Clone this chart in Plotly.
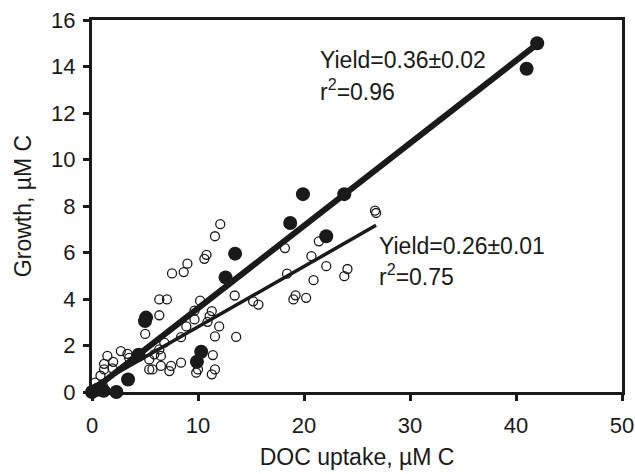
import plotly.graph_objects as go

# Filled circles (large)
filled_x = [0.0, 0.5, 1.1, 2.3, 3.4, 4.4, 5.0, 5.1, 9.9, 10.3, 12.6, 13.5, 18.7, 19.9, 22.1, 23.8, 41.0, 42.0]
filled_y = [0.0, 0.1, 0.05, 0.0, 0.54, 1.6, 3.05, 3.2, 1.3, 1.73, 4.93, 5.95, 7.27, 8.51, 6.7, 8.51, 13.9, 15.0]

# Open circles (small)
open_x = [12.1, 11.6, 10.8, 10.6, 9.0, 8.65, 7.55, 6.35, 7.07, 13.46, 15.2, 15.7, 10.2, 6.35, 9.67,
          11.3, 11.1, 10.9, 9.67, 5.02, 12.0, 8.9, 8.4, 11.6, 13.6, 6.82, 6.35, 6.5, 5.88, 5.4,
          2.72, 3.35, 3.5, 1.45, 1.14, 1.14, 1.93, 5.4, 5.7, 6.5, 7.3, 7.46, 8.4, 11.4, 11.6,
          11.3, 9.83, 10.0, 26.7, 26.8, 21.4, 18.2, 20.7, 22.1, 18.4, 24.1, 23.8, 20.9, 19.2,
          19.0, 20.2, 0.3, 0.8, 2.0, 1.0]
open_y = [7.22, 6.7, 5.9, 5.73, 5.52, 5.16, 5.1, 3.98, 3.98, 4.15, 3.9, 3.76, 3.93, 3.3, 3.5,
          3.48, 3.26, 3.02, 3.12, 2.5, 2.82, 2.82, 2.36, 2.39, 2.37, 2.12, 1.83, 1.55, 1.62, 1.4,
          1.76, 1.64, 1.47, 1.55, 1.21, 0.97, 1.02, 0.97, 0.97, 1.12, 0.9, 1.12, 1.26, 1.59, 0.97,
          0.76, 0.83, 0.97, 7.8, 7.7, 6.48, 6.19, 5.84, 5.41, 5.09, 5.29, 4.98, 4.81, 4.16,
          3.98, 4.05, 0.4, 0.7, 1.3, 0.3]

# Regression fits
fit1_slope, fit1_int, fit1_xmax = 0.355, 0.05, 42.0
fit2_slope, fit2_int, fit2_xmax = 0.26, 0.2, 26.8

x_ticks = [0, 10, 20, 30, 40, 50]
y_ticks = [0, 2, 4, 6, 8, 10, 12, 14, 16]

FONT = "Liberation Sans, Arial, sans-serif"
INK = "#1a1a1a"

fig = go.Figure()
fig.add_trace(go.Scatter(
    x=open_x, y=open_y, mode="markers",
    marker=dict(symbol="circle-open", size=9, color=INK, line=dict(width=1.3, color=INK)),
    showlegend=False, cliponaxis=False))
fig.add_trace(go.Scatter(
    x=[0, fit2_xmax], y=[fit2_int, fit2_int + fit2_slope * fit2_xmax], mode="lines",
    line=dict(color=INK, width=3.5), showlegend=False))
fig.add_trace(go.Scatter(
    x=[0, fit1_xmax], y=[fit1_int, fit1_int + fit1_slope * fit1_xmax], mode="lines",
    line=dict(color=INK, width=6), showlegend=False))
fig.add_trace(go.Scatter(
    x=filled_x, y=filled_y, mode="markers",
    marker=dict(symbol="circle", size=14, color=INK),
    showlegend=False, cliponaxis=False))

ann_font = dict(family=FONT, size=23, color=INK)
fig.add_annotation(x=21.3, y=14.27, text="Yield=0.36\u00b10.02", showarrow=False,
                   xanchor="left", yanchor="middle", font=ann_font)
fig.add_annotation(x=21.3, y=13.0, text="r<sup>2</sup>=0.96", showarrow=False,
                   xanchor="left", yanchor="middle", font=ann_font)
fig.add_annotation(x=26.86, y=6.27, text="Yield=0.26\u00b10.01", showarrow=False,
                   xanchor="left", yanchor="middle", font=ann_font)
fig.add_annotation(x=26.86, y=5.04, text="r<sup>2</sup>=0.75", showarrow=False,
                   xanchor="left", yanchor="middle", font=ann_font)

axis_common = dict(showline=True, linewidth=3, linecolor=INK, mirror=True,
                   ticks="outside", ticklen=6, tickwidth=2.5, tickcolor=INK,
                   showgrid=False, zeroline=False, automargin=False,
                   tickfont=dict(family=FONT, size=22, color=INK))

fig.update_xaxes(range=[0, 50], tickvals=x_ticks, ticklabelstandoff=6,
                 title=dict(text="DOC uptake, \u00b5M C", font=dict(family=FONT, size=23, color=INK), standoff=12),
                 **axis_common)
fig.update_yaxes(range=[0, 16], tickvals=y_ticks, ticklabelstandoff=3,
                 title=dict(text="Growth, \u00b5M C", font=dict(family=FONT, size=23, color=INK), standoff=14),
                 **axis_common)

fig.update_layout(width=635, height=474, margin=dict(l=92, r=13, t=20, b=82),
                  plot_bgcolor="white", paper_bgcolor="white")

fig.write_html("out.html")
